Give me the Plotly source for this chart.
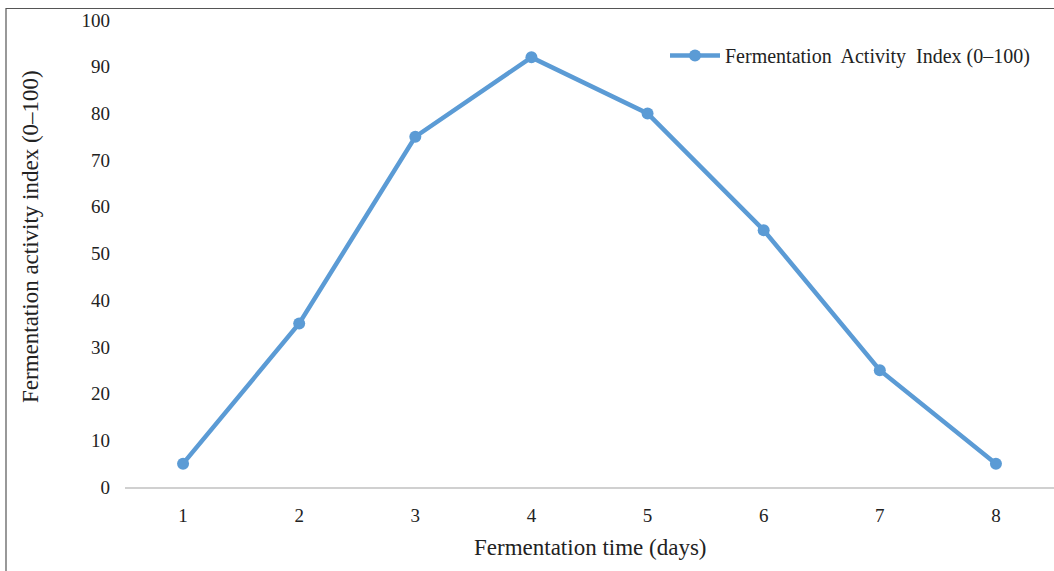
import plotly.graph_objects as go

days = ["1", "2", "3", "4", "5", "6", "7", "8"]
activity = [5, 35, 75, 92, 80, 55, 25, 5]
y_ticks = [0, 10, 20, 30, 40, 50, 60, 70, 80, 90, 100]
series_name = "Fermentation  Activity  Index (0\u2013100)"
x_title = "Fermentation time (days)"
y_title = "Fermentation activity index (0\u2013100)"

W, H = 1054, 571
L, R, T, B = 125, 0, 20, 84
pw, ph = W - L - R, H - T - B

def px_x(p):
    return (p - L) / pw

def px_y(p):
    return (H - B - p) / ph

font = "Liberation Serif"
color = "#5b9bd5"
txt = "#222222"

fig = go.Figure()
fig.add_trace(go.Scatter(
    x=days, y=activity, mode="lines+markers", name=series_name,
    line=dict(color=color, width=4.5),
    marker=dict(color=color, size=12),
))

fig.update_layout(
    width=W, height=H,
    margin=dict(l=L, r=R, t=T, b=B),
    paper_bgcolor="white", plot_bgcolor="white",
    font=dict(family=font, size=19, color=txt),
    showlegend=True,
    legend=dict(x=px_x(665), y=px_y(36), xanchor="left", yanchor="top",
                font=dict(family=font, size=20, color=txt),
                bgcolor="rgba(0,0,0,0)", itemwidth=50),
    xaxis=dict(type="category", range=[-0.5, 7.5], showgrid=False,
               showline=True, linecolor="#d0d0d0", linewidth=1.5,
               ticks="", tickfont=dict(family=font, size=19, color=txt),
               zeroline=False, ticklabelstandoff=10),
    yaxis=dict(range=[0, 100], tickvals=y_ticks, showgrid=False,
               showline=False, zeroline=False, ticks="",
               tickfont=dict(family=font, size=19, color=txt),
               ticklabelstandoff=14),
    annotations=[
        dict(text=x_title, xref="paper", yref="paper", x=px_x(590), y=px_y(547),
             xanchor="center", yanchor="middle", showarrow=False,
             font=dict(family=font, size=23, color=txt)),
        dict(text=y_title, xref="paper", yref="paper", x=px_x(31), y=px_y(237),
             xanchor="center", yanchor="middle", showarrow=False, textangle=-90,
             font=dict(family=font, size=23, color=txt)),
    ],
    shapes=[
        dict(type="rect", xref="paper", yref="paper",
             x0=px_x(6), y0=px_y(H + 5), x1=px_x(W + 5), y1=px_y(8.5),
             line=dict(color="#555555", width=1.2), fillcolor="rgba(0,0,0,0)",
             layer="below"),
    ],
)

fig.write_html("out.html")
